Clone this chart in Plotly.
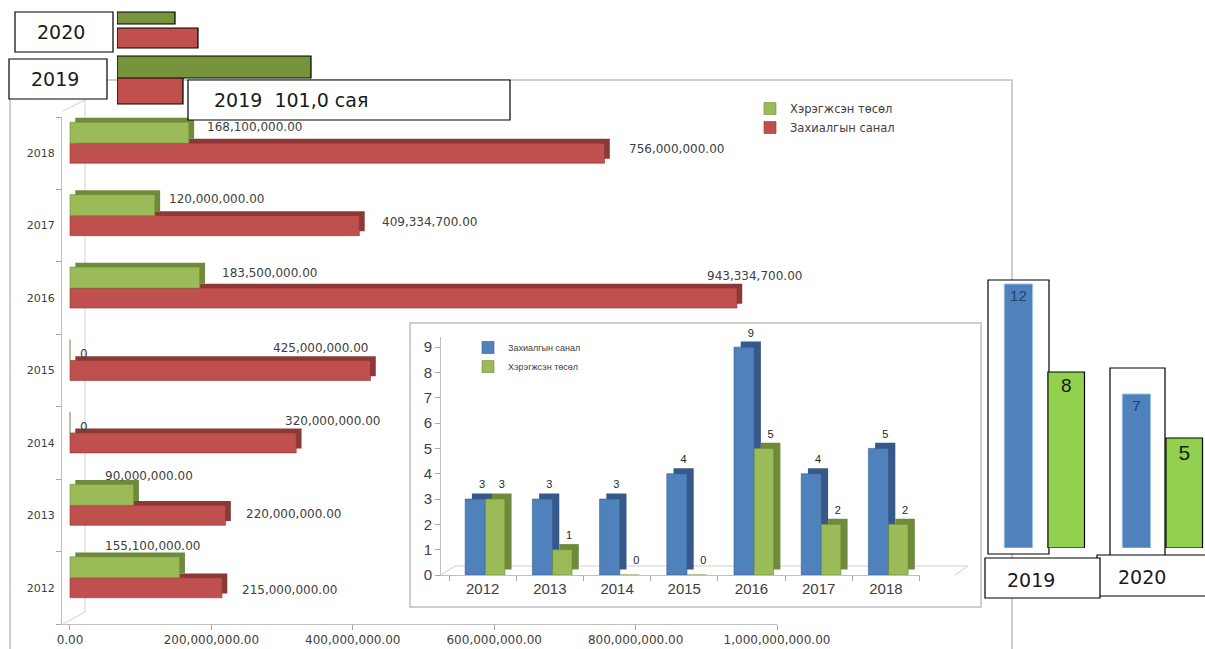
import plotly.graph_objects as go

W, H = 1205, 649


def px(x):
    return x / W


def py(y):
    return 1 - y / H


# ---------------- data ----------------
years = ["2012", "2013", "2014", "2015", "2016", "2017", "2018"]
proposal_amount = [215000000, 220000000, 320000000, 425000000, 943334700, 409334700, 756000000]
implemented_amount = [155100000, 90000000, 0, 0, 183500000, 120000000, 168100000]
amount_ticks = [0, 200000000, 400000000, 600000000, 800000000, 1000000000]
amount_tick_labels = ["0.00", "200,000,000.00", "400,000,000.00",
                      "600,000,000.00", "800,000,000.00", "1,000,000,000.00"]

proposal_count = [3, 3, 3, 4, 9, 4, 5]
implemented_count = [3, 1, 0, 0, 5, 2, 2]
count_ticks = [0, 1, 2, 3, 4, 5, 6, 7, 8, 9]

recent_years = ["2019", "2020"]
recent_proposal_count = [12, 7]
recent_implemented_count = [8, 5]

snippet_years = ["2020", "2019"]
snippet_implemented = [58, 194]
snippet_proposal = [81, 66]

name_proposal = "Захиалгын санал"
name_implemented = "Хэрэгжсэн төсөл"
total_label = "2019  101,0 сая"

# ---------------- styles ----------------
RED = "#C0504D"
RED_DARK = "#8C3836"
GREEN = "#9BBB59"
GREEN_DARK = "#6E8A3A"
OLIVE = "#77933C"
BLUE = "#4F81BD"
BLUE_DARK = "#36598A"
LIME = "#92D050"
TXT = "#404040"
GRAY = "#BFBFBF"
MAIN_FONT = "DejaVu Sans"
BOX_FONT = "DejaVu Sans"

# pseudo-3D depth offsets (style only)
MAIN_DX = 7.5e6      # ~5 px along the amount axis
MAIN_DY = 0.06       # ~4 px along the category axis
INSET_DX = 0.10      # ~7 px along the category axis
INSET_DY = 0.22      # ~6 px along the count axis

# label placement (xanchor, xshift, yshift) per year, 2012..2018
red_label_style = [("left", 18, -2), ("left", 18, 1), ("left", -13, 22), ("right", 0, 23),
                   ("left", -32, 22), ("left", 21, 4), ("left", 23, 4)]
green_label_style = [("left", -77, 42), ("left", -31, 39), ("left", 8, 16), ("left", 8, 17),
                     ("left", 20, 25), ("left", 12, 27), ("left", 16, 26)]


def fmt_amount(v):
    return "0" if v == 0 else f"{v:,.2f}"


fig = go.Figure()

# ---------- main horizontal chart ----------
fig.add_trace(go.Bar(
    y=years, x=proposal_amount, orientation="h", showlegend=False,
    marker=dict(color=RED_DARK, line=dict(width=0)), base=MAIN_DX,
    offset=-0.138 + MAIN_DY, width=0.276, xaxis="x", yaxis="y", hoverinfo="skip"))
fig.add_trace(go.Bar(
    y=years, x=proposal_amount, orientation="h", name=name_proposal,
    marker=dict(color=RED, line=dict(color=RED_DARK, width=0.6)),
    offset=-0.138, width=0.276, xaxis="x", yaxis="y", legend="legend",
    hoverinfo="skip"))
fig.add_trace(go.Bar(
    y=years, x=implemented_amount, orientation="h", showlegend=False,
    marker=dict(color=GREEN_DARK, line=dict(width=0)), base=MAIN_DX,
    offset=0.138 + MAIN_DY, width=0.29, xaxis="x", yaxis="y", hoverinfo="skip"))
fig.add_trace(go.Bar(
    y=years, x=implemented_amount, orientation="h", name=name_implemented,
    marker=dict(color=GREEN, line=dict(color=GREEN_DARK, width=0.6)),
    offset=0.138, width=0.29, xaxis="x", yaxis="y", legend="legend",
    hoverinfo="skip"))

# ---------- inset vertical chart ----------
inset_text = dict(size=11, color="#262626", family="Liberation Sans")
fig.add_trace(go.Bar(
    x=years, y=proposal_count, showlegend=False, base=INSET_DY,
    marker=dict(color=BLUE_DARK, line=dict(width=0)),
    offset=-0.26 + INSET_DX, width=0.3,
    text=proposal_count, textposition="outside", cliponaxis=False, textfont=inset_text,
    xaxis="x2", yaxis="y2", hoverinfo="skip"))
fig.add_trace(go.Bar(
    x=years, y=proposal_count, name=name_proposal,
    marker=dict(color=BLUE, line=dict(color=BLUE_DARK, width=0.6)),
    offset=-0.26, width=0.3,
    xaxis="x2", yaxis="y2", legend="legend2", hoverinfo="skip"))
fig.add_trace(go.Bar(
    x=years, y=implemented_count, showlegend=False, base=INSET_DY,
    marker=dict(color=GREEN_DARK, line=dict(width=0)),
    offset=0.04 + INSET_DX, width=0.29,
    text=implemented_count, textposition="outside", cliponaxis=False, textfont=inset_text,
    xaxis="x2", yaxis="y2", hoverinfo="skip"))
fig.add_trace(go.Bar(
    x=years, y=implemented_count, name=name_implemented,
    marker=dict(color=GREEN, line=dict(color=GREEN_DARK, width=0.6)),
    offset=0.04, width=0.29,
    xaxis="x2", yaxis="y2", legend="legend2", hoverinfo="skip"))

# ---------- right 2019/2020 bars ----------
fig.add_trace(go.Bar(
    x=recent_years, y=recent_proposal_count, showlegend=False,
    marker=dict(color=BLUE, line=dict(color="#9DC3E6", width=1)),
    offset=-0.32, width=0.24,
    text=recent_proposal_count, textposition="inside", insidetextanchor="end",
    textfont=dict(size=15, color="#24426E", family="Liberation Sans"),
    xaxis="x3", yaxis="y3", hoverinfo="skip"))
fig.add_trace(go.Bar(
    x=recent_years, y=recent_implemented_count, showlegend=False,
    marker=dict(color=LIME, line=dict(color="#000000", width=1.2)),
    offset=0.05, width=0.31,
    text=recent_implemented_count, textposition="inside", insidetextanchor="end",
    textfont=dict(size=[19, 21], color="#1a1a1a", family="Liberation Sans"),
    xaxis="x3", yaxis="y3", hoverinfo="skip"))

# ---------- top-left snippet bars ----------
fig.add_trace(go.Bar(
    y=snippet_years, x=snippet_proposal, orientation="h", showlegend=False,
    marker=dict(color=RED, line=dict(color="#000000", width=1.2)),
    offset=[-0.042, -0.125], width=[0.417, 0.667],
    xaxis="x4", yaxis="y4", hoverinfo="skip"))
fig.add_trace(go.Bar(
    y=snippet_years, x=snippet_implemented, orientation="h", showlegend=False,
    marker=dict(color=OLIVE, line=dict(color="#000000", width=1.2)),
    offset=[-0.375, -0.458], width=[0.25, 0.458],
    xaxis="x4", yaxis="y4", hoverinfo="skip"))

# ---------- annotations ----------
annotations = []
for i, (v, (anc, xs, ys)) in enumerate(zip(proposal_amount, red_label_style)):
    annotations.append(dict(x=v, y=i, xref="x", yref="y", text=fmt_amount(v),
                            showarrow=False, xanchor=anc, yanchor="middle",
                            xshift=xs, yshift=ys,
                            font=dict(size=12, color=TXT, family=MAIN_FONT)))
for i, (v, (anc, xs, ys)) in enumerate(zip(implemented_amount, green_label_style)):
    annotations.append(dict(x=v, y=i, xref="x", yref="y", text=fmt_amount(v),
                            showarrow=False, xanchor=anc, yanchor="middle",
                            xshift=xs, yshift=ys,
                            font=dict(size=12, color=TXT, family=MAIN_FONT)))

box_font = dict(size=19, color="#1a1a1a", family=BOX_FONT)
annotations += [
    dict(x=px(61), y=py(32), xref="paper", yref="paper", text="2020", showarrow=False,
         xanchor="center", yanchor="middle", font=box_font),
    dict(x=px(55), y=py(79), xref="paper", yref="paper", text="2019", showarrow=False,
         xanchor="center", yanchor="middle", font=box_font),
    dict(x=px(212), y=py(100), xref="paper", yref="paper", text=total_label, showarrow=False,
         xanchor="left", yanchor="middle", font=box_font),
    dict(x=px(1031), y=py(580), xref="paper", yref="paper", text="2019", showarrow=False,
         xanchor="center", yanchor="middle", font=box_font),
    dict(x=px(1142), y=py(577), xref="paper", yref="paper", text="2020", showarrow=False,
         xanchor="center", yanchor="middle", font=box_font),
]

# ---------- decorative frames ----------
def rect(x0, y0, x1, y1, line="#000000", width=1.2, fill="rgba(0,0,0,0)", layer="above"):
    return dict(type="rect", xref="paper", yref="paper",
                x0=px(x0), x1=px(x1), y0=py(y0), y1=py(y1),
                line=dict(color=line, width=width), fillcolor=fill, layer=layer)


def seg(x0, y0, x1, y1, color="#D0D0D0", width=1):
    return dict(type="line", xref="paper", yref="paper",
                x0=px(x0), x1=px(x1), y0=py(y0), y1=py(y1),
                line=dict(color=color, width=width), layer="below")


shapes = [
    rect(10, 80, 1012, 660, line=GRAY, width=1.5, layer="below"),
    seg(85, 100, 85, 612),
    seg(63, 111, 85, 100),
    seg(63, 624, 85, 612),
    rect(410, 323, 981, 607, line=GRAY, width=1.5, fill="#FFFFFF", layer="below"),
    seg(441, 575, 455, 566),
    seg(455, 566, 968, 566),
    seg(968, 566, 955, 575),
    rect(988, 280, 1049, 554, fill="#FFFFFF", layer="below"),
    rect(1110, 368, 1165, 556, fill="#FFFFFF", layer="below"),
    # text boxes
    rect(15, 12, 113, 52, fill="#FFFFFF"),
    rect(9, 59, 107, 99, fill="#FFFFFF"),
    rect(188, 80, 510, 120, fill="#FFFFFF"),
    rect(1097, 555, 1212, 596, fill="#FFFFFF"),
    rect(985, 558, 1100, 598, fill="#FFFFFF"),
]

fig.update_layout(
    width=W, height=H,
    margin=dict(l=0, r=0, t=0, b=0, pad=0, autoexpand=False),
    paper_bgcolor="#FFFFFF", plot_bgcolor="rgba(0,0,0,0)",
    font=dict(family="Liberation Sans", color=TXT),
    barmode="group", bargap=0.4, bargroupgap=0,
    showlegend=True,
    annotations=annotations,
    shapes=shapes,
    legend=dict(x=px(750), y=py(94), xanchor="left", yanchor="top",
                traceorder="reversed", bgcolor="rgba(0,0,0,0)",
                font=dict(size=11.5, color=TXT, family=MAIN_FONT),
                itemclick=False),
    legend2=dict(x=px(468), y=py(333), xanchor="left", yanchor="top",
                 traceorder="normal", bgcolor="rgba(0,0,0,0)",
                 font=dict(size=9, color=TXT, family="Liberation Sans"),
                 itemclick=False),
    xaxis=dict(domain=[px(62), px(777)], range=[-11.3e6, 1.0e9], anchor="y",
               tickvals=amount_ticks, ticktext=amount_tick_labels,
               ticks="outside", ticklen=5, tickcolor="#A6A6A6",
               showline=True, linecolor=GRAY, showgrid=False, zeroline=False,
               automargin=False,
               tickfont=dict(size=12, color=TXT, family=MAIN_FONT)),
    yaxis=dict(domain=[py(624), py(117)], type="category", categoryorder="array",
               categoryarray=years, range=[-0.5, 6.5], anchor="x",
               ticks="outside", tickson="boundaries", ticklen=5, tickcolor="#A6A6A6",
               showline=True, linecolor=GRAY, showgrid=False, zeroline=False,
               automargin=False, ticklabelstandoff=4,
               tickfont=dict(size=11, color=TXT, family=MAIN_FONT)),
    xaxis2=dict(domain=[px(441), px(919.5)], type="category", categoryorder="array",
                categoryarray=years, range=[-0.62, 6.5], anchor="y2",
                ticks="outside", tickson="boundaries", ticklen=5, tickcolor="#A6A6A6",
                showline=True, linecolor=GRAY, showgrid=False, zeroline=False,
                automargin=False,
                tickfont=dict(size=15, color=TXT, family="Liberation Sans")),
    yaxis2=dict(domain=[py(575), py(337)], range=[0, 9.4], anchor="x2",
                tickvals=count_ticks, ticks="outside", ticklen=5, tickcolor="#A6A6A6",
                showline=True, linecolor=GRAY, showgrid=False, zeroline=False,
                automargin=False,
                tickfont=dict(size=15, color=TXT, family="Liberation Sans")),
    xaxis3=dict(domain=[px(985), 1.0], type="category", categoryorder="array",
                categoryarray=recent_years, range=[-0.483, 1.381], anchor="y3",
                visible=False),
    yaxis3=dict(domain=[py(548), py(270)], range=[0, 12.636], anchor="x3", visible=False),
    xaxis4=dict(domain=[px(117), px(517)], range=[0, 400], anchor="y4", visible=False),
    yaxis4=dict(domain=[py(110), py(5)], type="category", categoryorder="array",
                categoryarray=snippet_years, range=[1.667, -0.521], anchor="x4",
                visible=False),
)

fig.write_html(
    "out.html",
    config={"displayModeBar": False},
    post_script="document.body.style.margin='0px';document.body.style.overflow='hidden';",
)
